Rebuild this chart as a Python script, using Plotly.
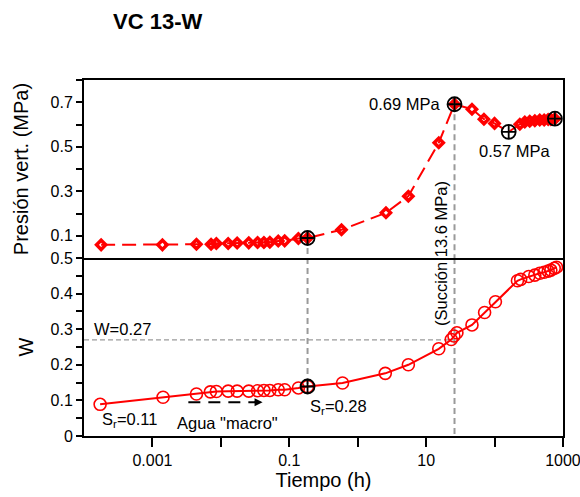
import numpy as np
import plotly.graph_objects as go

# ---- data -------------------------------------------------------------
# vertical pressure (MPa) vs time (h)
t_p = [1.78e-4, 0.0014, 0.0044, 0.0072, 0.0086, 0.0128, 0.0173, 0.0256, 0.0344,
       0.0426, 0.052, 0.069, 0.0857, 0.136, 0.185, 0.58, 2.59, 5.5, 15.3, 26.0,
       46.8, 70.0, 100.0, 161.0, 234.0, 277.0, 327.0, 388.0, 458.0, 531.0, 608.0,
       665.0, 762.0]
p_vert = [0.059, 0.059, 0.062, 0.062, 0.065, 0.065, 0.067, 0.068, 0.070,
          0.070, 0.071, 0.076, 0.077, 0.088, 0.090, 0.127, 0.203, 0.278, 0.518, 0.691,
          0.669, 0.624, 0.605, 0.567, 0.601, 0.611, 0.615, 0.617, 0.620, 0.620, 0.622,
          0.622, 0.626]
# highlighted pressure points (indices into t_p)
p_marks = [14, 19, 23, 32]
p_valley = 23

# water content W vs time (h)
t_w = [1.72e-4, 0.00143, 0.0044, 0.00703, 0.0086, 0.0128, 0.0173, 0.0256, 0.0344,
       0.0426, 0.052, 0.069, 0.0857, 0.136, 0.185, 0.60, 2.53, 5.5, 15.3, 23.3,
       25.5, 28.2, 46.8, 71.6, 103.0, 216.0, 241.0, 316.0, 388.0, 458.0, 531.0,
       608.0, 665.0, 745.0, 805.0]
w = [0.089, 0.109, 0.118, 0.124, 0.125, 0.126, 0.126, 0.126, 0.127,
     0.128, 0.128, 0.130, 0.130, 0.135, 0.139, 0.149, 0.176, 0.200, 0.245, 0.271,
     0.281, 0.290, 0.312, 0.347, 0.377, 0.436, 0.440, 0.448, 0.452, 0.457, 0.460,
     0.463, 0.466, 0.471, 0.474]
w_mark = 14
w_ref = 0.27

# "Agua macro" arrow (time span, W level)
arrow_t = [0.00335, 0.036]
arrow_tip = 0.0407
arrow_w = 0.0947

x_ticks = [1e-3, 1e-1, 10, 1000]
x_ticktext = ["0.001", "0.1", "10", "1000"]
x_minor = [1e-2, 1, 100]
p_ticks = [0.1, 0.3, 0.5, 0.7]
p_minor = [0.2, 0.4, 0.6, 0.8]
w_ticks = [0, 0.1, 0.2, 0.3, 0.4, 0.5]
w_minor = [0.05, 0.15, 0.25, 0.35, 0.45]

FONT = "Liberation Sans, Arial, sans-serif"
RED = "#ff0000"
GREY = "#9a9a9a"

fig = go.Figure()

# ---- guide lines ------------------------------------------------------
t_left = t_p[p_marks[0]]
t_peak = t_p[p_marks[1]]
guide = dict(color=GREY, width=2, dash="6px,4px")
fig.add_trace(go.Scatter(x=[t_left, t_left], y=[p_vert[p_marks[0]], 0], mode="lines",
                         line=guide, xaxis="x2", yaxis="y2", hoverinfo="skip"))
fig.add_trace(go.Scatter(x=[t_peak, t_peak], y=[p_vert[p_marks[1]], 0], mode="lines",
                         line=guide, xaxis="x2", yaxis="y2", hoverinfo="skip"))
fig.add_trace(go.Scatter(x=[t_left, t_left], y=[0.5, w[w_mark]], mode="lines",
                         line=guide, xaxis="x", yaxis="y", hoverinfo="skip"))
fig.add_trace(go.Scatter(x=[t_peak, t_peak], y=[0.5, 0], mode="lines",
                         line=guide, xaxis="x", yaxis="y", hoverinfo="skip"))
fig.add_trace(go.Scatter(x=[1e-4, t_peak], y=[w_ref, w_ref], mode="lines",
                         line=dict(color=GREY, width=1.3, dash="5px,3px"),
                         xaxis="x", yaxis="y", hoverinfo="skip"))

# ---- pressure series --------------------------------------------------
fig.add_trace(go.Scatter(x=t_p, y=p_vert, mode="lines",
                         line=dict(color=RED, width=2, dash="14px,7px"),
                         xaxis="x2", yaxis="y2"))
dia_x = [t for i, t in enumerate(t_p) if i != p_valley]
dia_y = [v for i, v in enumerate(p_vert) if i != p_valley]
fig.add_trace(go.Scatter(x=dia_x, y=dia_y, mode="markers",
                         marker=dict(symbol="diamond-open", size=7, color=RED,
                                     line=dict(width=3.5, color=RED)),
                         xaxis="x2", yaxis="y2"))
fig.add_trace(go.Scatter(x=[t_p[i] for i in p_marks], y=[p_vert[i] for i in p_marks],
                         mode="markers",
                         marker=dict(symbol="circle-cross-open", size=14, color="black",
                                     line=dict(width=1.8, color="black")),
                         xaxis="x2", yaxis="y2"))

# ---- water content series ---------------------------------------------
fig.add_trace(go.Scatter(x=t_w, y=w, mode="lines+markers",
                         line=dict(color=RED, width=2),
                         marker=dict(symbol="circle-open", size=12, color=RED,
                                     line=dict(width=1.6, color=RED)),
                         xaxis="x", yaxis="y"))
fig.add_trace(go.Scatter(x=[t_w[w_mark]], y=[w[w_mark]], mode="markers",
                         marker=dict(symbol="circle-cross-open", size=14, color="black",
                                     line=dict(width=1.8, color="black")),
                         xaxis="x", yaxis="y"))

# dashed arrow shaft
fig.add_trace(go.Scatter(x=arrow_t, y=[arrow_w, arrow_w], mode="lines",
                         line=dict(color="black", width=2, dash="12px,8px"),
                         xaxis="x", yaxis="y", hoverinfo="skip"))

ann_font = dict(family=FONT, size=16.5, color="black")
annotations = [
    dict(x=np.log10(t_peak), y=p_vert[p_marks[1]], xref="x2", yref="y2",
         text="0.69 MPa", showarrow=False, xanchor="right", yanchor="middle",
         xshift=-13, font=ann_font),
    dict(x=np.log10(t_p[p_valley]), y=p_vert[p_valley], xref="x2", yref="y2",
         text="0.57 MPa", showarrow=False, xanchor="center", yanchor="middle",
         xshift=6, yshift=-19, font=ann_font),
    dict(x=np.log10(t_peak), y=0.5126, xref="x", yref="paper",
         text="(Succión 13.6 MPa)", showarrow=False, textangle=-90,
         xanchor="center", yanchor="middle", xshift=-14, font=ann_font),
    dict(x=0.0167, y=w_ref, xref="paper", yref="y", text="W=0.27",
         showarrow=False, xanchor="left", yanchor="middle", yshift=11, font=ann_font),
    dict(x=np.log10(t_w[0]), y=w[0], xref="x", yref="y",
         text="S<sub>r</sub>=0.11", showarrow=False, xanchor="left",
         yanchor="middle", yshift=-16, font=ann_font),
    dict(x=np.log10(t_w[w_mark]), y=w[w_mark], xref="x", yref="y",
         text="S<sub>r</sub>=0.28", showarrow=False, xanchor="left",
         yanchor="middle", yshift=-20, font=ann_font),
    dict(x=np.log10(0.0125), y=0.0365, xref="x", yref="y",
         text="Agua \"macro\"", showarrow=False, xanchor="center",
         yanchor="middle", font=ann_font),
    dict(x=np.log10(arrow_tip), y=arrow_w, xref="x", yref="y", text="",
         showarrow=True, ax=-10, ay=0, axref="pixel", ayref="pixel",
         arrowhead=2, arrowsize=1, arrowwidth=1.6, arrowcolor="black"),
]

axis_common = dict(showline=True, linecolor="black", linewidth=2, automargin=False,
                   showgrid=False, zeroline=False, ticklabeloverflow="allow",
                   tickfont=dict(family=FONT, size=16, color="black"))


def minor_ticks(vals, length):
    return dict(tickmode="array", tickvals=vals, ticks="outside", ticklen=length,
                tickwidth=1.5, tickcolor="black", showgrid=False)


X_RANGE = [-4, 3.0005]

fig.update_layout(
    width=580, height=497,
    margin=dict(l=84, r=17, t=80, b=61, autoexpand=False),
    paper_bgcolor="white", plot_bgcolor="white",
    showlegend=False,
    font=dict(family=FONT, color="black"),
    title=dict(text="<b>VC 13-W</b>", font=dict(family=FONT, size=22, color="black"),
               x=113 / 580, xref="container", xanchor="left",
               y=1 - 21 / 497, yref="container", yanchor="middle"),
    xaxis=dict(type="log", range=X_RANGE, domain=[0, 1], anchor="y", mirror=False,
               tickmode="array", tickvals=x_ticks, ticktext=x_ticktext,
               ticks="outside", ticklen=9, tickwidth=1.5, tickcolor="black",
               minor=minor_ticks(x_minor, 9),
               title=dict(text="Tiempo (h)", font=dict(family=FONT, size=20),
                          standoff=4),
               **axis_common),
    xaxis2=dict(type="log", range=X_RANGE, domain=[0, 1], anchor="y2", matches="x",
                mirror=True, ticks="", showticklabels=False, **axis_common),
    yaxis=dict(range=[0, 0.5], domain=[0, 0.5], anchor="x", mirror=True,
               tickmode="array", tickvals=w_ticks,
               ticks="outside", ticklen=6, tickwidth=1.5, tickcolor="black",
               minor=minor_ticks(w_minor, 6),
               title=dict(text="W", font=dict(family=FONT, size=20), standoff=12),
               **axis_common),
    yaxis2=dict(range=[0, 0.8], domain=[0.5, 1], anchor="x2", mirror=True,
                tickmode="array", tickvals=p_ticks,
                ticks="outside", ticklen=6, tickwidth=1.5, tickcolor="black",
                minor=minor_ticks(p_minor, 6),
                title=dict(text="Presión vert. (MPa)", font=dict(family=FONT, size=20),
                           standoff=17),
                **axis_common),
    annotations=annotations,
)

fig.write_html("out.html")
